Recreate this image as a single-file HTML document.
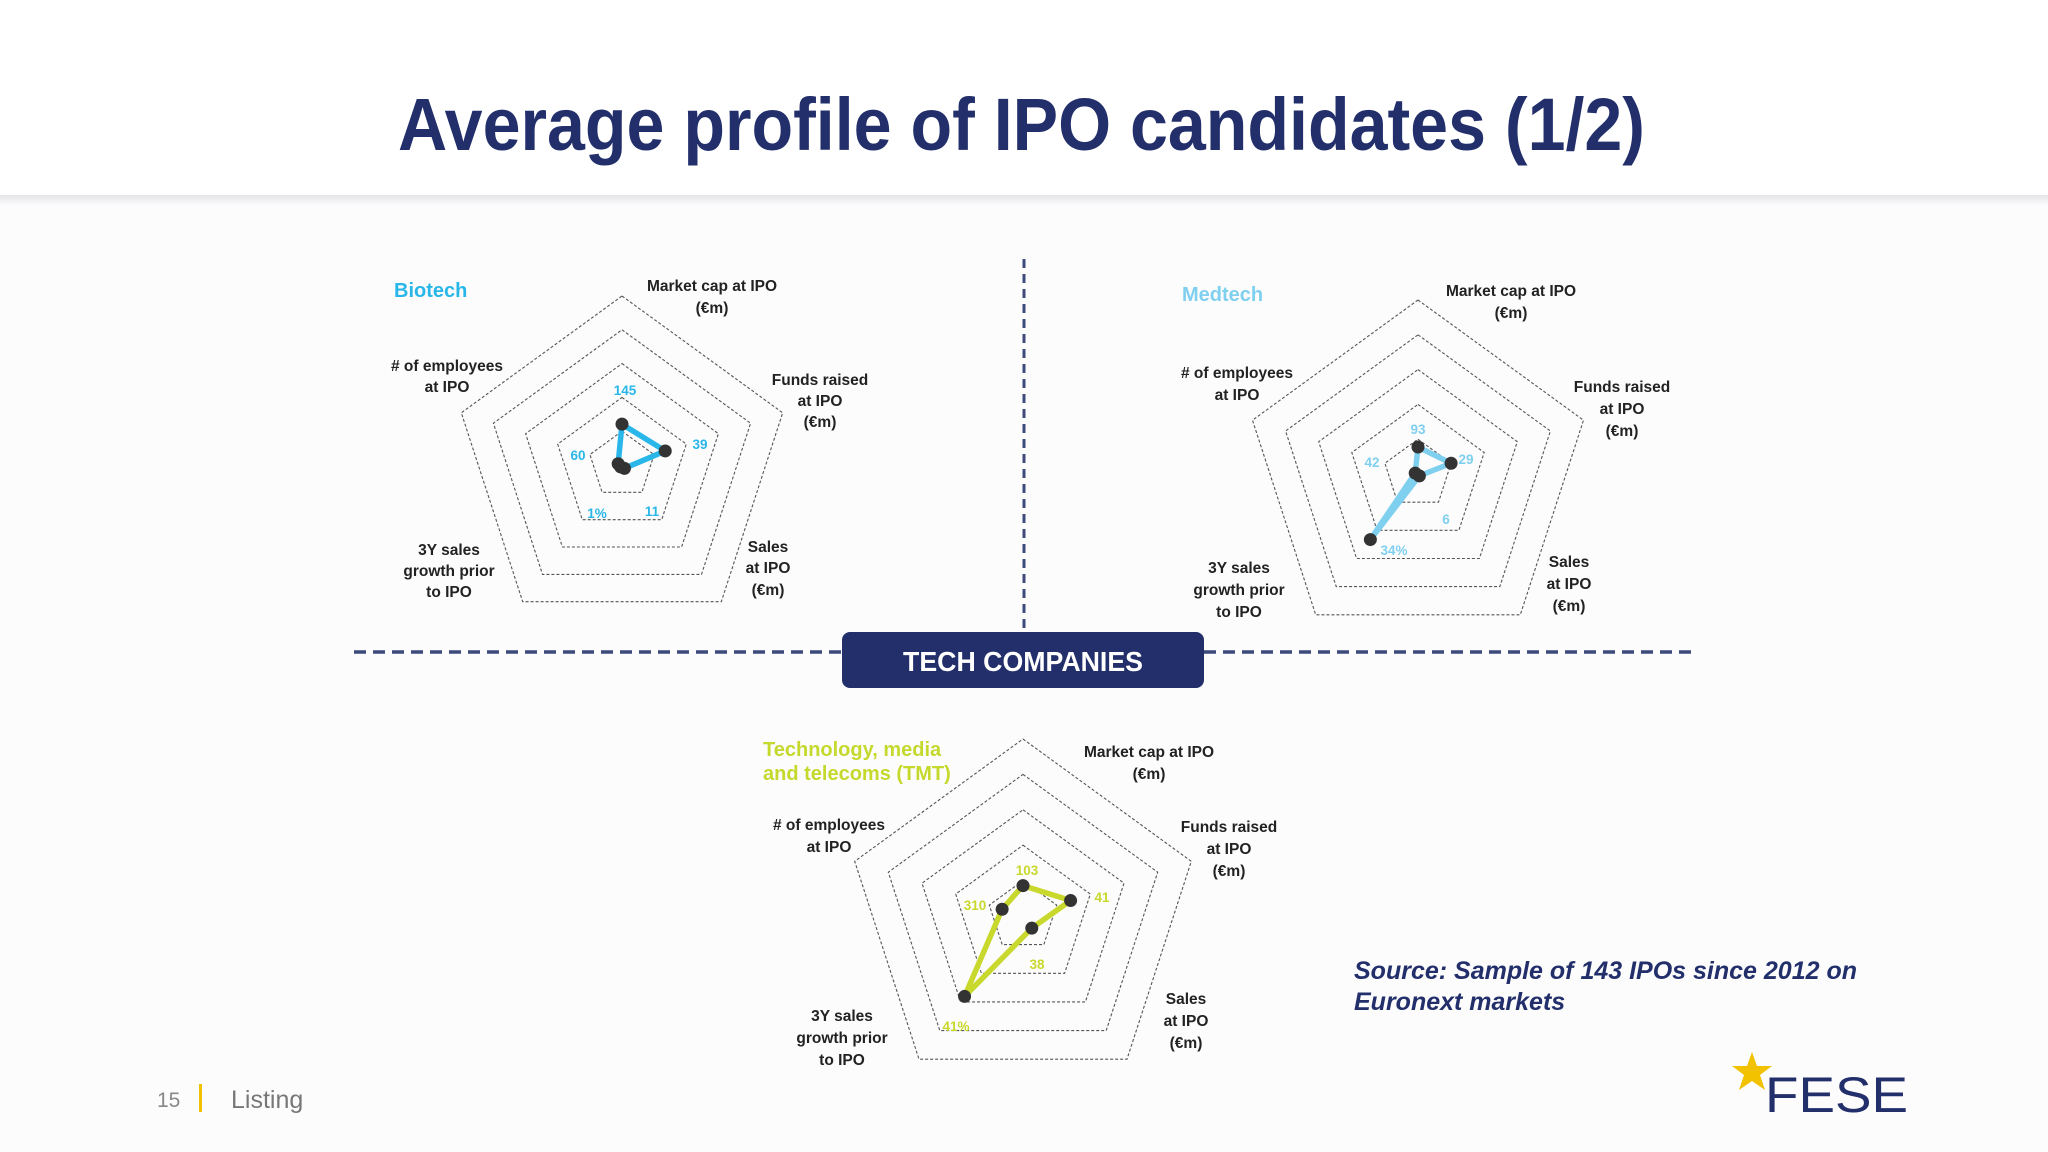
<!DOCTYPE html>
<html><head><meta charset="utf-8"><style>
html,body{margin:0;padding:0;background:#fcfcfd;}
svg{display:block;font-family:"Liberation Sans",sans-serif;}
</style></head><body>
<svg id="s" width="2048" height="1152" viewBox="0 0 2048 1152" xmlns="http://www.w3.org/2000/svg">
<defs><linearGradient id="sh" x1="0" y1="0" x2="0" y2="1"><stop offset="0" stop-color="#e4e4e8"/><stop offset="1" stop-color="#fcfcfd"/></linearGradient></defs>
<rect x="0" y="0" width="2048" height="195" fill="#ffffff"/>
<rect x="0" y="195" width="2048" height="10" fill="url(#sh)"/>
<text x="398" y="150" font-size="74" font-weight="bold" fill="#222f6b" textLength="1247" lengthAdjust="spacingAndGlyphs">Average profile of IPO candidates (1/2)</text>
<line x1="1024" y1="259" x2="1024" y2="633" stroke="#3d4a7c" stroke-width="3" stroke-dasharray="9 6"/>
<line x1="354" y1="652" x2="842" y2="652" stroke="#3d4a7c" stroke-width="3.5" stroke-dasharray="12 7"/>
<line x1="1204" y1="652" x2="1691" y2="652" stroke="#3d4a7c" stroke-width="3.5" stroke-dasharray="12 7"/>
<rect x="842" y="632" width="362" height="56" rx="8" fill="#222f6b"/>
<text x="1023" y="671" font-size="28" font-weight="bold" fill="#fff" text-anchor="middle" textLength="240" lengthAdjust="spacingAndGlyphs">TECH COMPANIES</text>
<g font-size="25" font-weight="bold" font-style="italic" fill="#222f6b">
<text x="1354" y="979">Source: Sample of 143 IPOs since 2012 on</text>
<text x="1354" y="1010">Euronext markets</text>
</g>
<text x="157" y="1107" font-size="21" fill="#888">15</text>
<rect x="199" y="1084" width="3" height="28" fill="#f2c200"/>
<text x="231" y="1108" font-size="25" fill="#777">Listing</text>
<g>
<polygon points="1752,1052 1757,1066 1772,1066 1760,1075 1765,1090 1752,1081 1739,1090 1744,1075 1732,1066 1747,1066" fill="#f2c200"/>
<text x="1765" y="1112" font-size="50" fill="#222f6b" textLength="143" lengthAdjust="spacingAndGlyphs">FESE</text>
</g>
<g id="charts"></g>
</svg>
<script>
// Axes (shared)
const axisNames = ["market-cap","funds-raised","sales","sales-growth","employees"];
const axisMax = [600,145,450,73,2500];
// Series values
const biotechValues = [145,39,11,1,60];
const biotechLabels = ["145","39","11","1%","60"];
const medtechValues = [93,29,6,34,42];
const medtechLabels = ["93","29","6","34%","42"];
const tmtValues = [103,41,38,41,310];
const tmtLabels = ["103","41","38","41%","310"];

const NS="http://www.w3.org/2000/svg";
const root=document.getElementById('charts');
function mk(tag,attrs,parent){const e=document.createElementNS(NS,tag);for(const k in attrs)e.setAttribute(k,attrs[k]);parent.appendChild(e);return e;}
function ang(i){return (-90+72*i)*Math.PI/180;}
function pt(cx,cy,r,i){return [cx+r*Math.cos(ang(i)),cy+r*Math.sin(ang(i))];}

const charts=[
 {id:"biotech",title:["Biotech"],titleXY:[394,297],color:"#29b6e8",titleColor:"#29b6e8",cx:622,cy:465,R:169,vals:biotechValues,labs:biotechLabels,
  lblOff:[[3,-75],[78,-21],[30,46],[-25,48],[-44,-10]],
  axisLbl:[[712,[286,308],["Market cap at IPO","(€m)"]],[820,[380,401,422],["Funds raised","at IPO","(€m)"]],[768,[547,568,590],["Sales","at IPO","(€m)"]],[449,[550,571,592],["3Y sales","growth prior","to IPO"]],[447,[366,387],["# of employees","at IPO"]]]},
 {id:"medtech",title:["Medtech"],titleXY:[1182,301],color:"#7fcfef",titleColor:"#7fcfef",cx:1418,cy:474,R:174,vals:medtechValues,labs:medtechLabels,
  lblOff:[[0,-45],[48,-15],[28,45],[-24,76],[-46,-12]],
  axisLbl:[[1511,[291,313],["Market cap at IPO","(€m)"]],[1622,[387,409,431],["Funds raised","at IPO","(€m)"]],[1569,[562,584,606],["Sales","at IPO","(€m)"]],[1239,[568,590,612],["3Y sales","growth prior","to IPO"]],[1237,[373,395],["# of employees","at IPO"]]]},
 {id:"tmt",title:["Technology, media","and telecoms (TMT)"],titleXY:[763,756],color:"#c9d82c",titleColor:"#c5d92d",cx:1023,cy:916,R:177,vals:tmtValues,labs:tmtLabels,
  lblOff:[[4,-46],[79,-19],[14,48],[-67,110],[-48,-11]],
  axisLbl:[[1149,[752,774],["Market cap at IPO","(€m)"]],[1229,[827,849,871],["Funds raised","at IPO","(€m)"]],[1186,[999,1021,1043],["Sales","at IPO","(€m)"]],[842,[1016,1038,1060],["3Y sales","growth prior","to IPO"]],[829,[825,847],["# of employees","at IPO"]]]}
];

charts.forEach(c=>{
 const g=mk('g',{},root);
 
 
 for(let k=1;k<=5;k++){
  const r=c.R*k/5;const p=[];for(let i=0;i<5;i++)p.push(pt(c.cx,c.cy,r,i).map(v=>v.toFixed(1)).join(','));
  const ring=mk('polygon',{points:p.join(' '),fill:'none',stroke:'#555','stroke-width':1.1,'stroke-dasharray':'3 2'},g);
  
  
 }
 const tg=mk('g',{'font-size':20,'font-weight':'bold',fill:c.titleColor},g);
 c.title.forEach((t,j)=>{const e=mk('text',{x:c.titleXY[0],y:c.titleXY[1]+j*24},tg);e.textContent=t;
  
  });
 c.axisLbl.forEach((a,i)=>{a[2].forEach((t,j)=>{const e=mk('text',{x:a[0],y:a[1][j]+5,'font-size':15.5,'font-weight':'bold',fill:'#222','text-anchor':'middle'},g);e.textContent=t;
  
  });});
 const pts=c.vals.map((v,i)=>pt(c.cx,c.cy,v/axisMax[i]*c.R,i));
 const poly=mk('polygon',{points:pts.map(p=>p.join(',')).join(' '),fill:'none',stroke:c.color,'stroke-width':5.5,'stroke-linejoin':'round'},g);
 
 
 pts.forEach((p,i)=>{const d=mk('circle',{cx:p[0],cy:p[1],r:6.5,fill:'#333'},g);
  
  });
 c.labs.forEach((l,i)=>{const o=c.lblOff[i];const e=mk('text',{x:c.cx+o[0],y:c.cy+o[1]+5,'font-size':13.5,'font-weight':'bold',fill:c.color,'text-anchor':'middle'},g);e.textContent=l;
  
  });
});
</script>
</body></html>
